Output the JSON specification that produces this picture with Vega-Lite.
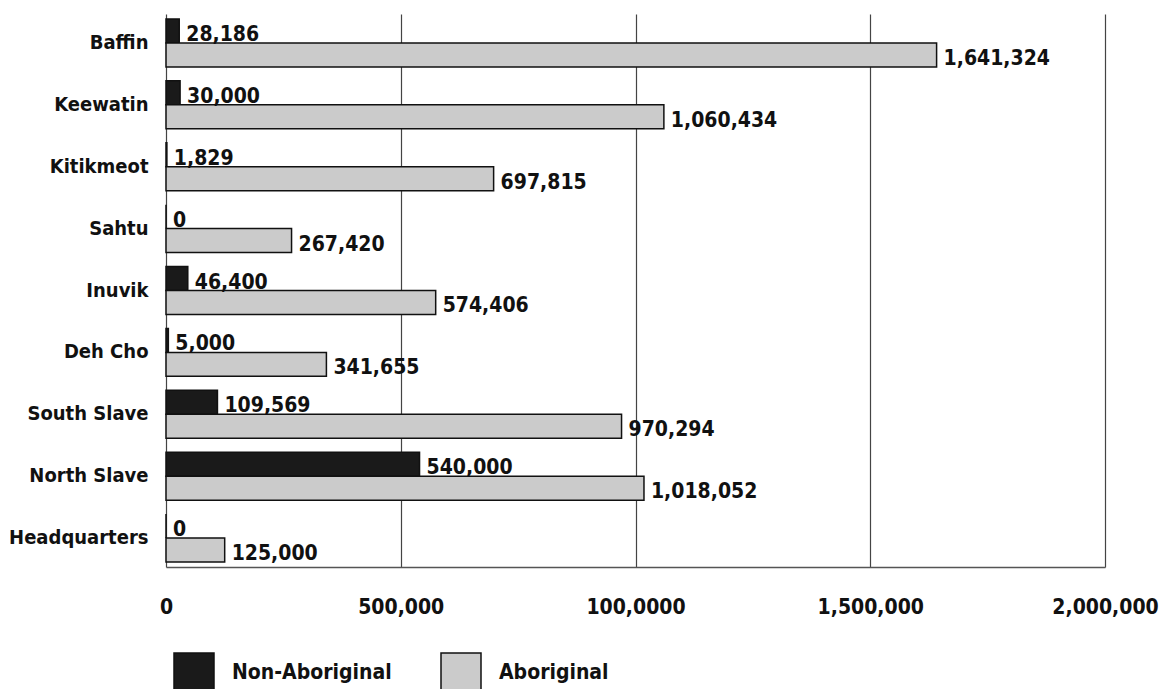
{
  "$schema": "https://vega.github.io/schema/vega-lite/v6.json",
  "width": 939,
  "height": 553,
  "autosize": {"type": "none"},
  "padding": {"left": 166, "top": 14, "right": 59, "bottom": 122},
  "background": "white",
  "config": {
    "view": {"stroke": null},
    "font": "DejaVu Sans Condensed",
    "axis": {"labelFont": "DejaVu Sans Condensed", "labelFontWeight": "bold", "labelColor": "#111", "labelFontSize": 21}
  },
  "data": {
    "values": [
      {"region": "Baffin", "series": "Non-Aboriginal", "value": 28186},
      {"region": "Baffin", "series": "Aboriginal", "value": 1641324},
      {"region": "Keewatin", "series": "Non-Aboriginal", "value": 30000},
      {"region": "Keewatin", "series": "Aboriginal", "value": 1060434},
      {"region": "Kitikmeot", "series": "Non-Aboriginal", "value": 1829},
      {"region": "Kitikmeot", "series": "Aboriginal", "value": 697815},
      {"region": "Sahtu", "series": "Non-Aboriginal", "value": 0},
      {"region": "Sahtu", "series": "Aboriginal", "value": 267420},
      {"region": "Inuvik", "series": "Non-Aboriginal", "value": 46400},
      {"region": "Inuvik", "series": "Aboriginal", "value": 574406},
      {"region": "Deh Cho", "series": "Non-Aboriginal", "value": 5000},
      {"region": "Deh Cho", "series": "Aboriginal", "value": 341655},
      {"region": "South Slave", "series": "Non-Aboriginal", "value": 109569},
      {"region": "South Slave", "series": "Aboriginal", "value": 970294},
      {"region": "North Slave", "series": "Non-Aboriginal", "value": 540000},
      {"region": "North Slave", "series": "Aboriginal", "value": 1018052},
      {"region": "Headquarters", "series": "Non-Aboriginal", "value": 0},
      {"region": "Headquarters", "series": "Aboriginal", "value": 125000}
    ]
  },
  "encoding": {
    "y": {
      "field": "region",
      "type": "nominal",
      "sort": ["Baffin", "Keewatin", "Kitikmeot", "Sahtu", "Inuvik", "Deh Cho", "South Slave", "North Slave", "Headquarters"],
      "scale": {"paddingInner": 0.225, "paddingOuter": 0.08},
      "axis": {"title": null, "domain": false, "ticks": false, "labelPadding": 18, "labelFontSize": 20}
    },
    "yOffset": {
      "field": "series",
      "type": "nominal",
      "sort": ["Non-Aboriginal", "Aboriginal"],
      "scale": {"paddingInner": 0, "paddingOuter": 0}
    },
    "x": {
      "field": "value",
      "type": "quantitative",
      "scale": {"domain": [0, 2000000], "nice": false},
      "axis": {
        "title": null,
        "values": [0, 500000, 1000000, 1500000, 2000000],
        "labelExpr": "datum.value == 1000000 ? '100,0000' : format(datum.value, ',')",
        "grid": true,
        "gridColor": "#444",
        "gridWidth": 1.2,
        "gridOpacity": 1,
        "ticks": false,
        "domainColor": "#555",
        "domainWidth": 1.5,
        "labelPadding": 29,
        "labelFlush": false
      }
    }
  },
  "layer": [
    {
      "mark": {"type": "bar", "stroke": "#111", "strokeWidth": 1.5},
      "encoding": {
        "color": {
          "field": "series",
          "type": "nominal",
          "sort": ["Non-Aboriginal", "Aboriginal"],
          "scale": {"domain": ["Non-Aboriginal", "Aboriginal"], "range": ["#1a1a1a", "#cbcbcb"]},
          "legend": {
            "title": null,
            "orient": "none",
            "direction": "horizontal",
            "legendX": 7,
            "legendY": 638,
            "padding": 0,
            "symbolType": "square",
            "symbolSize": 1600,
            "symbolStrokeColor": "#111",
            "symbolStrokeWidth": 1.5,
            "symbolOpacity": 1,
            "labelFont": "DejaVu Sans Condensed",
            "labelFontWeight": "bold",
            "labelFontSize": 21,
            "labelColor": "#111",
            "labelOffset": 17,
            "columnPadding": 46,
            "labelLimit": 300
          }
        }
      }
    },
    {
      "mark": {"type": "text", "align": "left", "baseline": "middle", "dx": 7, "dy": 4, "fontSize": 21, "fontWeight": "bold", "color": "#111", "font": "DejaVu Sans Condensed"},
      "encoding": {
        "text": {"field": "value", "type": "quantitative", "format": ","}
      }
    }
  ]
}
